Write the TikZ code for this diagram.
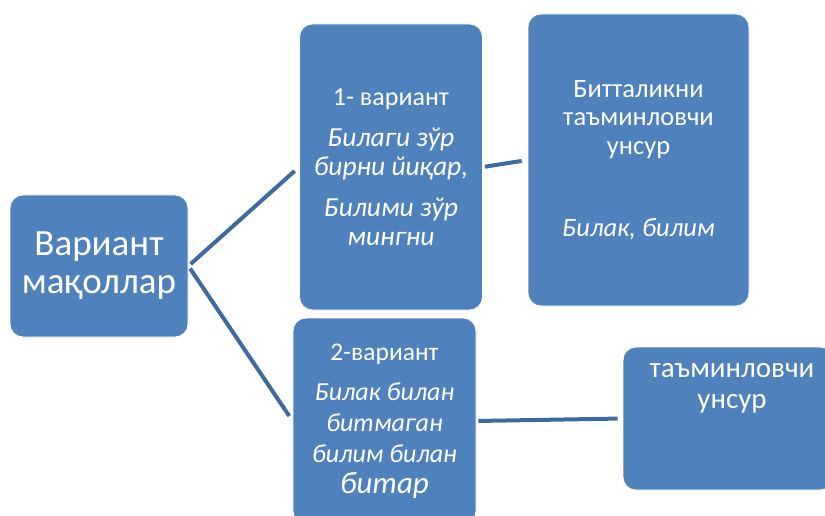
\documentclass[tikz,border=0pt]{standalone}
\usepackage{fontspec}
\setmainfont{Carlito}
\usetikzlibrary{positioning}

\definecolor{boxblue}{HTML}{4F81BD}
\definecolor{linkblue}{HTML}{3D6A9F}

\newcommand{\saying}[1]{{\fontsize{27.5}{29}\selectfont\itshape #1}}

\tikzset{
  sabox/.style={draw=white,line width=0.8pt,fill=boxblue,rounded corners=13pt,
    text=white,align=center,inner sep=0pt,anchor=center},
  link/.style={draw=linkblue,line width=4pt}
}

\begin{document}
\begin{tikzpicture}[x=1pt,y=-1pt]
  \useasboundingbox (0,0) rectangle (825,516);
  \clip (0,0) rectangle (825,516);
  % root and the two variants
  \node[sabox,minimum width=178pt,minimum height=142pt,font=\fontsize{37}{38}\selectfont]
    (root) at (99,266) {Вариант\\мақоллар};
  \node[sabox,minimum width=183pt,minimum height=286pt,font=\fontsize{26}{29}\selectfont]
    (var1) at (391,167) {1- вариант\\[12pt]
      \saying{Билаги зўр}\\\saying{бирни йиқар,}\\[12pt]
      \saying{Билими зўр}\\\saying{мингни}};
  \node[sabox,minimum width=221pt,minimum height=292pt,font=\fontsize{26.5}{28.5}\selectfont]
    (unsur1) at (638.5,160) {Битталикни\\таъминловчи\\унсур\\[53.5pt]
      \textit{Билак, билим}};
  \node[sabox,minimum width=183pt,minimum height=206pt,font=\fontsize{26}{31}\selectfont]
    (var2) at (384.5,421) {{\fontsize{25.5}{31}\selectfont 2-вариант}\\[9pt]
      \textit{Билак билан}\\\textit{битмаган}\\\textit{билим билан}\\
      {\fontsize{31}{31}\selectfont\textit{битар}}};
  \node[sabox,minimum width=210pt,minimum height=143pt] (unsur2) at (728,418.5) {};
  \node[text=white,align=center,font=\fontsize{29}{31}\selectfont]
    (unsur2txt) at ([xshift=4pt,yshift=30pt]unsur2.center) {таъминловчи\\унсур};
  % connectors
  \draw[link,shorten <=3pt,shorten >=6pt] (root.east) -- (var1.west);
  \draw[link,shorten <=3pt,shorten >=6pt] (root.east) -- (var2.west);
  \draw[link,shorten <=2pt,shorten >=6pt] (var1.east) -- (unsur1.west);
  \draw[link,shorten <=2pt,shorten >=5pt] (var2.east) -- (unsur2.west);
\end{tikzpicture}
\end{document}
